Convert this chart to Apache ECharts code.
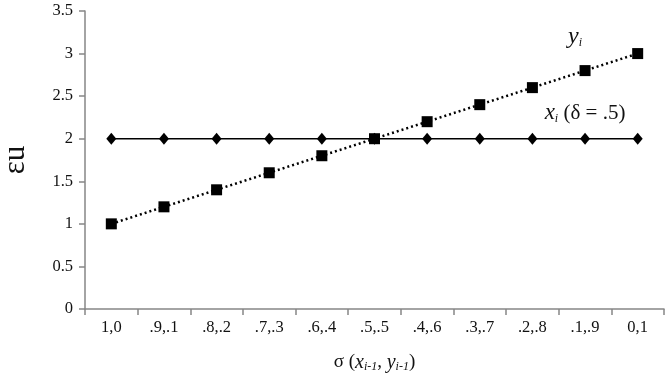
<!DOCTYPE html>
<html>
<head>
<meta charset="utf-8">
<script src="https://cdn.jsdelivr.net/npm/echarts@6/dist/echarts.min.js"></script>
<style>
  html, body { margin: 0; padding: 0; background: #fff; }
  #chart { width: 669px; height: 374px; }
</style>
</head>
<body>
<div id="chart"></div>
<script>
// data
let categories = ['1,0', '.9,.1', '.8,.2', '.7,.3', '.6,.4', '.5,.5', '.4,.6', '.3,.7', '.2,.8', '.1,.9', '0,1'];
let xValues = [2, 2, 2, 2, 2, 2, 2, 2, 2, 2, 2];
let yValues = [1, 1.2, 1.4, 1.6, 1.8, 2, 2.2, 2.4, 2.6, 2.8, 3];
let yTicks = { min: 0, max: 3.5, interval: 0.5 };

let serif = 'Liberation Serif';
let axisGray = '#868686';
let ink = '#111';

let chart = echarts.init(document.getElementById('chart'));

chart.setOption({
  animation: false,
  textStyle: { fontFamily: serif },
  grid: { left: 85, right: 5, top: 11, bottom: 65, containLabel: false, outerBoundsMode: 'none' },
  xAxis: {
    type: 'category',
    data: categories,
    boundaryGap: true,
    axisLine: { lineStyle: { color: axisGray, width: 1.5 } },
    axisTick: { show: true, length: 6, lineStyle: { color: axisGray, width: 1.5 } },
    axisLabel: { color: ink, fontSize: 16.5, fontFamily: serif, margin: 10 },
    name: '{n|σ (}{i|x}{s|i-1}{n|, }{i|y}{s|i-1}{n|)}',
    nameLocation: 'middle',
    nameGap: 43,
    nameTextStyle: {
      rich: {
        n: { fontSize: 19, fontFamily: serif, color: ink },
        i: { fontSize: 20, fontFamily: serif, fontStyle: 'italic', color: ink },
        s: { fontSize: 12, fontFamily: serif, fontStyle: 'italic', color: ink, verticalAlign: 'bottom', padding: [9, 0, 0, 0] }
      }
    }
  },
  yAxis: {
    type: 'value',
    min: yTicks.min,
    max: yTicks.max,
    interval: yTicks.interval,
    splitLine: { show: false },
    axisLine: { show: true, lineStyle: { color: axisGray, width: 1.5 } },
    axisTick: { show: true, length: 6, lineStyle: { color: axisGray, width: 1.5 } },
    axisLabel: { color: ink, fontSize: 16.5, fontFamily: serif, margin: 12 },
    name: 'εu',
    nameLocation: 'middle',
    nameGap: 54,
    nameRotate: 90,
    nameTextStyle: { fontSize: 31, fontFamily: serif, color: ink }
  },
  series: [
    {
      name: 'x',
      type: 'line',
      data: xValues,
      symbol: 'diamond',
      symbolSize: [10, 12],
      itemStyle: { color: '#000' },
      lineStyle: { color: '#000', width: 1.5 },
      markPoint: {
        symbol: 'circle',
        symbolSize: 0,
        data: [{ coord: ['.1,.9', 2.3] }],
        label: {
          show: true,
          formatter: '{i|x}{s|i}{n| (δ = .5)}',
          rich: {
            n: { fontSize: 21, fontFamily: serif, color: ink },
            i: { fontSize: 23, fontFamily: serif, fontStyle: 'italic', color: ink },
            s: { fontSize: 12, fontFamily: serif, fontStyle: 'italic', color: ink, verticalAlign: 'bottom', padding: [10, 0, 0, 0] }
          }
        }
      }
    },
    {
      name: 'y',
      type: 'line',
      data: yValues,
      symbol: 'rect',
      symbolSize: 11,
      itemStyle: { color: '#000' },
      lineStyle: { color: '#000', width: 2.5, type: [2, 3] },
      z: 3,
      markPoint: {
        symbol: 'circle',
        symbolSize: 0,
        data: [{ coord: ['.1,.9', 3.2] }],
        label: {
          show: true,
          offset: [-10, 0],
          formatter: '{i|y}{s|i}',
          rich: {
            i: { fontSize: 24, fontFamily: serif, fontStyle: 'italic', color: ink },
            s: { fontSize: 12, fontFamily: serif, fontStyle: 'italic', color: ink, verticalAlign: 'bottom', padding: [10, 0, 0, 0] }
          }
        }
      }
    }
  ]
});
</script>
</body>
</html>
